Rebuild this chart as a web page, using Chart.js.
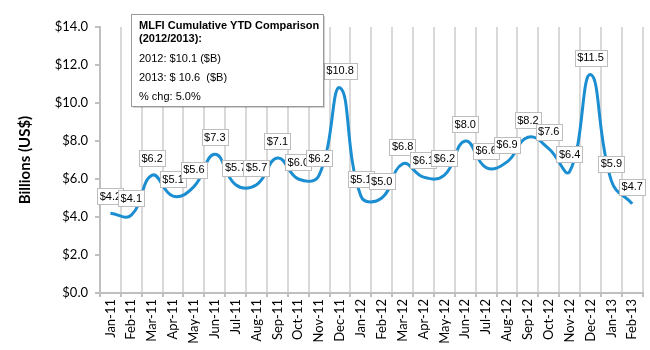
<!DOCTYPE html>
<html>
<head>
<meta charset="utf-8">
<script src="https://cdn.jsdelivr.net/npm/chart.js@4/dist/chart.umd.min.js"></script>
<style>
html,body{margin:0;padding:0;background:#fff;}
#wrap{width:650px;height:350px;position:relative;}
</style>
</head>
<body>
<div id="wrap"><canvas id="c" width="650" height="350"></canvas></div>
<script>
const categories = ["Jan-11","Feb-11","Mar-11","Apr-11","May-11","Jun-11","Jul-11","Aug-11","Sep-11","Oct-11","Nov-11","Dec-11","Jan-12","Feb-12","Mar-12","Apr-12","May-12","Jun-12","Jul-12","Aug-12","Sep-12","Oct-12","Nov-12","Dec-12","Jan-13","Feb-13"];
const values = [4.2,4.1,6.2,5.1,5.6,7.3,5.7,5.7,7.1,6.0,6.2,10.8,5.1,5.0,6.8,6.1,6.2,8.0,6.6,6.9,8.2,7.6,6.4,11.5,5.9,4.7];
const yTicks = [0,2,4,6,8,10,12,14];
const noteTitle = ["MLFI Cumulative YTD Comparison","(2012/2013):"];
const noteLines = ["2012: $10.1 ($B)","2013: $ 10.6  ($B)","% chg: 5.0%"];

const labelPlugin = {
  id:'valueLabels',
  afterDatasetsDraw(chart){
    const ctx = chart.ctx;
    const meta = chart.getDatasetMeta(0);
    ctx.save();
    ctx.font = '11px "Liberation Sans", Arial, sans-serif';
    ctx.textBaseline = 'middle';
    ctx.textAlign = 'center';
    meta.data.forEach((pt,i)=>{
      const txt = '$' + values[i].toFixed(1);
      const w = ctx.measureText(txt).width + 5;
      const h = 16;
      const cx = pt.x, cy = pt.y - 17;
      ctx.fillStyle = '#fff';
      ctx.fillRect(Math.round(cx - w/2)+0.5, Math.round(cy - h/2)+0.5, Math.round(w), h);
      ctx.strokeStyle = '#bdbdbd';
      ctx.lineWidth = 1;
      ctx.strokeRect(Math.round(cx - w/2)+0.5, Math.round(cy - h/2)+0.5, Math.round(w), h);
      ctx.fillStyle = '#000';
      ctx.fillText(txt, cx, cy+0.5);
    });
    ctx.restore();
  },
  afterDraw(chart){
    const ctx = chart.ctx;
    ctx.save();
    const x = 131, y = 14, w = 192, h = 92;
    ctx.fillStyle = 'rgba(0,0,0,0.18)';
    ctx.fillRect(x+2, y+2, w, h);
    ctx.fillStyle = '#fff';
    ctx.fillRect(x, y, w, h);
    ctx.strokeStyle = '#9a9a9a';
    ctx.lineWidth = 1;
    ctx.strokeRect(x+0.5, y+0.5, w, h);
    ctx.fillStyle = '#000';
    ctx.textAlign = 'left';
    ctx.textBaseline = 'alphabetic';
    ctx.font = 'bold 11px "Liberation Sans", Arial, sans-serif';
    ctx.fillText(noteTitle[0], 139, 29);
    ctx.fillText(noteTitle[1], 139, 42);
    ctx.font = '11px "Liberation Sans", Arial, sans-serif';
    ctx.fillText(noteLines[0], 139, 62);
    ctx.fillText(noteLines[1], 139, 81);
    ctx.fillText(noteLines[2], 139, 100);
    ctx.restore();
  }
};

new Chart(document.getElementById('c'), {
  type:'line',
  data:{
    labels: categories,
    datasets:[{
      data: values,
      borderColor:'#1b8ed2',
      borderWidth:3,
      pointRadius:0,
      tension:0.45,
      fill:false
    }]
  },
  options:{
    responsive:false,
    animation:false,
    devicePixelRatio:1,
    layout:{padding:{top:27,right:7,left:0,bottom:0}},
    plugins:{legend:{display:false},tooltip:{enabled:false}},
    scales:{
      x:{
        offset:true,
        grid:{offset:true,color:'#d9d9d9',lineWidth:2,tickLength:4,tickColor:'#bfbfbf'},
        border:{color:'#bfbfbf',width:2},
        ticks:{minRotation:90,maxRotation:90,autoSkip:false,color:'#000',padding:2,
          font:{family:'Lato',size:13}},
        afterFit(s){ s.height = 57; }
      },
      y:{
        min:0,max:14,
        afterBuildTicks(s){ s.ticks = yTicks.map(v=>({value:v})); },
        grid:{drawOnChartArea:false,tickLength:5,tickColor:'#bfbfbf',lineWidth:2},
        border:{color:'#bfbfbf',width:2},
        ticks:{color:'#000',padding:7,font:{family:'Lato',size:13},
          callback:(v)=>'$'+Number(v).toFixed(1)},
        title:{display:true,text:'Billions (US$)',color:'#000',
          font:{family:'Lato',size:15,weight:'bold'},padding:{top:16,bottom:0}},
        afterFit(s){ s.width = 100; }
      }
    }
  },
  plugins:[labelPlugin]
});
</script>
</body>
</html>
